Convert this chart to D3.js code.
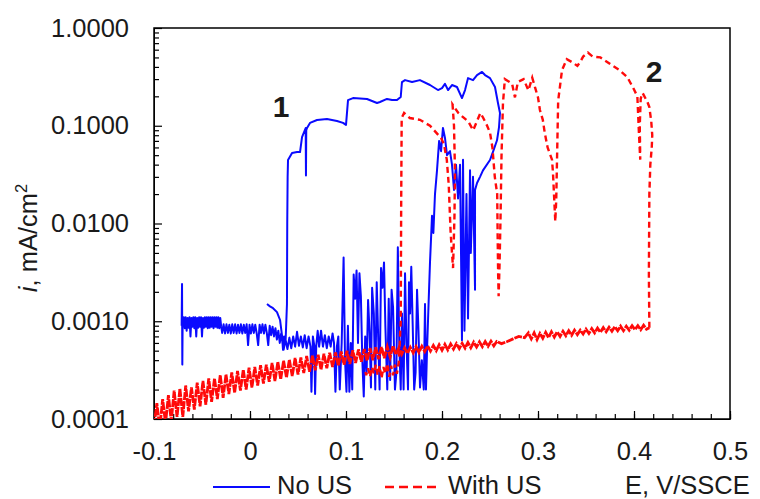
<!DOCTYPE html>
<html>
<head>
<meta charset="utf-8">
<script src="https://cdn.jsdelivr.net/npm/d3@7"></script>
<style>
  body { margin: 0; background: #fff; }
  svg { display: block; }
  text { font-family: "Liberation Sans", Arial, sans-serif; fill: #1a1a1a; }
</style>
</head>
<body>
<svg id="chart" width="760" height="499"></svg>
<script>
// E (V/SSCE), i (mA/cm2)

// No US - forward scan: passive band, pit at ~0.038 V, plateaus up to 0.26 V
const noUSForward = [
  [-0.0712, 0.0009], [-0.0708, 0.0024], [-0.0705, 0.00036], [-0.0702, 0.0009],
  [-0.069, 0.0011], [-0.068, 0.00085], [-0.067, 0.0011], [-0.066, 0.0008], [-0.065, 0.00108],
  [-0.064, 0.00086], [-0.063, 0.0011], [-0.062, 0.0007], [-0.061, 0.00108], [-0.060, 0.00088],
  [-0.059, 0.0011], [-0.058, 0.00085], [-0.057, 0.0011], [-0.056, 0.0007], [-0.055, 0.00108],
  [-0.054, 0.00086], [-0.053, 0.0011], [-0.052, 0.00088], [-0.051, 0.0011], [-0.050, 0.0007],
  [-0.049, 0.00108], [-0.048, 0.00086], [-0.047, 0.0011], [-0.046, 0.00088], [-0.045, 0.0011],
  [-0.044, 0.00085], [-0.043, 0.0011], [-0.042, 0.00086], [-0.041, 0.0011], [-0.040, 0.00088],
  [-0.039, 0.0011], [-0.038, 0.00085], [-0.037, 0.0011], [-0.036, 0.00088], [-0.035, 0.0011],
  [-0.034, 0.00086], [-0.033, 0.0011], [-0.032, 0.00085], [-0.031, 0.00108], [-0.030, 0.00088],
  [-0.029, 0.00076], [-0.0275, 0.00093], [-0.026, 0.00075], [-0.0245, 0.00093], [-0.023, 0.00076],
  [-0.0215, 0.00092], [-0.020, 0.00075], [-0.0185, 0.00093], [-0.017, 0.00076], [-0.0155, 0.00093],
  [-0.014, 0.00075], [-0.0125, 0.00092], [-0.011, 0.00076], [-0.0095, 0.00093], [-0.008, 0.00075],
  [-0.0065, 0.00092], [-0.005, 0.00076], [-0.0035, 0.00093], [-0.002, 0.00057], [-0.0005, 0.00092],
  [0.001, 0.00075], [0.0025, 0.00093], [0.004, 0.00076], [0.0055, 0.00092], [0.007, 0.00075],
  [0.0085, 0.00057], [0.010, 0.00092], [0.0115, 0.00076], [0.013, 0.00093], [0.0145, 0.00075],
  [0.016, 0.00092], [0.0175, 0.00076], [0.019, 0.00057], [0.0205, 0.0009], [0.022, 0.00072],
  [0.0235, 0.00088], [0.025, 0.0007], [0.0265, 0.00085], [0.028, 0.00065], [0.0295, 0.0008],
  [0.031, 0.0006], [0.0325, 0.00075], [0.034, 0.00058], [0.0355, 0.0007], [0.037, 0.0006],
  [0.0385, 0.0015], [0.0388, 0.01], [0.0392, 0.03], [0.0396, 0.0446], [0.0438, 0.0526],
  [0.049, 0.0538], [0.0521, 0.0538], [0.0542, 0.0767], [0.058, 0.0948], [0.0583, 0.031],
  [0.0586, 0.09], [0.0594, 0.0948], [0.0625, 0.107], [0.0698, 0.1145], [0.0802, 0.117],
  [0.0906, 0.112], [0.0969, 0.107], [0.100, 0.102], [0.1021, 0.183], [0.1073, 0.192],
  [0.1219, 0.188], [0.1323, 0.171], [0.1354, 0.175], [0.1427, 0.188], [0.148, 0.183],
  [0.1531, 0.183], [0.157, 0.197], [0.1583, 0.28], [0.1615, 0.293], [0.1688, 0.28],
  [0.177, 0.293], [0.1875, 0.261], [0.1958, 0.232], [0.200, 0.243], [0.2031, 0.268],
  [0.2063, 0.232], [0.2104, 0.261], [0.2156, 0.249], [0.2208, 0.192], [0.224, 0.232],
  [0.2271, 0.307], [0.2323, 0.293], [0.2365, 0.33], [0.2417, 0.355], [0.2448, 0.33],
  [0.250, 0.307], [0.2552, 0.249], [0.2583, 0.171], [0.2604, 0.135]
];

// No US - reverse scan: decay, repassivation spikes, back to passive band
const noUSReverse = [
  [0.2594, 0.097], [0.2573, 0.071], [0.2531, 0.054], [0.250, 0.0446], [0.2427, 0.035],
  [0.2396, 0.030], [0.2365, 0.026], [0.2344, 0.022], [0.2344, 0.0021], [0.2323, 0.03],
  [0.230, 0.005], [0.2292, 0.035], [0.2271, 0.00107], [0.2255, 0.02], [0.2234, 0.0008],
  [0.2219, 0.045], [0.2208, 0.00064], [0.2188, 0.04], [0.2167, 0.018], [0.2146, 0.04],
  [0.2125, 0.022], [0.2104, 0.04], [0.2083, 0.055], [0.2052, 0.05], [0.2031, 0.075],
  [0.201, 0.095], [0.199, 0.055], [0.197, 0.07], [0.1948, 0.035], [0.1927, 0.02],
  [0.191, 0.008], [0.1896, 0.012], [0.1875, 0.004], [0.186, 0.0015], [0.1844, 0.0005],
  [0.1833, 0.0002], [0.1823, 0.0015], [0.181, 0.0002], [0.179, 0.0004], [0.1771, 0.00021],
  [0.1755, 0.0008], [0.174, 0.0021], [0.1725, 0.0003], [0.171, 0.0002], [0.1695, 0.0009],
  [0.168, 0.0036], [0.1667, 0.0012], [0.1656, 0.0025], [0.1646, 0.0002], [0.163, 0.0006],
  [0.1615, 0.0031], [0.160, 0.0002], [0.1583, 0.0012], [0.157, 0.0002], [0.1555, 0.00058],
  [0.154, 0.0057], [0.1525, 0.0003], [0.151, 0.0002], [0.149, 0.0014], [0.1475, 0.0021],
  [0.146, 0.00025], [0.1445, 0.0017], [0.143, 0.0002], [0.141, 0.0009], [0.1396, 0.004],
  [0.138, 0.0022], [0.1365, 0.0035], [0.135, 0.0002], [0.1335, 0.0007], [0.132, 0.0025],
  [0.1305, 0.0002], [0.129, 0.0012], [0.1272, 0.0022], [0.126, 0.00021], [0.1245, 0.0008],
  [0.123, 0.00165], [0.1215, 0.0003], [0.120, 0.0007], [0.1185, 0.00017], [0.117, 0.0004],
  [0.1155, 0.0018], [0.114, 0.0031], [0.1125, 0.0006], [0.111, 0.0033], [0.1095, 0.0017],
  [0.108, 0.003], [0.1065, 0.0002], [0.105, 0.0006], [0.1035, 0.00019], [0.102, 0.0009],
  [0.1005, 0.00019], [0.099, 0.0004], [0.0975, 0.0045], [0.0955, 0.0006], [0.0935, 0.0002],
  [0.092, 0.0007], [0.0905, 0.00055], [0.089, 0.00019], [0.0875, 0.0006], [0.086, 0.00075],
  [0.084, 0.00055], [0.082, 0.0007], [0.080, 0.00053], [0.078, 0.00072], [0.076, 0.00055],
  [0.074, 0.0008], [0.072, 0.00055], [0.0705, 0.0008], [0.069, 0.00056], [0.0678, 0.00018],
  [0.067, 0.00056], [0.0655, 0.0007], [0.064, 0.00019], [0.063, 0.00055], [0.061, 0.0007],
  [0.059, 0.00053], [0.057, 0.00072], [0.055, 0.00054], [0.053, 0.0007], [0.051, 0.00056],
  [0.049, 0.00078], [0.047, 0.00055], [0.045, 0.0007], [0.043, 0.00053], [0.041, 0.00068],
  [0.039, 0.00052], [0.037, 0.00065], [0.035, 0.00051], [0.0344, 0.00051], [0.0333, 0.00072],
  [0.0313, 0.00103], [0.0281, 0.00124], [0.024, 0.00136], [0.0208, 0.00142], [0.0177, 0.0015]
];

// With US - forward scan: noisy passive band up to the pit at ~0.416 V
const withUSForward = [
  [-0.100, 0.85e-4], [-0.097, 1.45e-4], [-0.094, 0.80e-4], [-0.091, 1.60e-4], [-0.088, 0.90e-4],
  [-0.085, 1.75e-4], [-0.082, 0.95e-4], [-0.079, 1.95e-4], [-0.076, 1.05e-4], [-0.073, 2.05e-4],
  [-0.070, 1.05e-4], [-0.067, 2.20e-4], [-0.064, 1.20e-4], [-0.061, 2.10e-4], [-0.058, 1.25e-4],
  [-0.055, 2.35e-4], [-0.052, 1.35e-4], [-0.049, 2.45e-4], [-0.046, 1.40e-4], [-0.043, 2.60e-4],
  [-0.040, 1.50e-4], [-0.037, 2.60e-4], [-0.034, 1.60e-4], [-0.031, 2.80e-4], [-0.028, 1.65e-4],
  [-0.025, 2.85e-4], [-0.022, 1.80e-4], [-0.019, 3.00e-4], [-0.016, 1.85e-4], [-0.013, 3.10e-4],
  [-0.010, 1.95e-4], [-0.007, 3.20e-4], [-0.004, 2.00e-4], [-0.001, 3.35e-4], [0.002, 2.10e-4],
  [0.005, 3.40e-4], [0.008, 2.20e-4], [0.011, 3.55e-4], [0.014, 2.30e-4], [0.017, 3.60e-4],
  [0.020, 2.40e-4], [0.023, 3.75e-4], [0.026, 2.45e-4], [0.029, 3.85e-4], [0.032, 2.55e-4],
  [0.035, 3.95e-4], [0.038, 2.65e-4], [0.041, 4.05e-4], [0.044, 2.75e-4], [0.047, 4.20e-4],
  [0.050, 2.85e-4], [0.053, 4.25e-4], [0.056, 2.95e-4], [0.059, 4.40e-4], [0.062, 3.05e-4],
  [0.065, 4.45e-4], [0.068, 3.15e-4], [0.071, 4.55e-4], [0.074, 3.20e-4], [0.077, 4.65e-4],
  [0.080, 3.30e-4], [0.083, 4.75e-4], [0.086, 3.40e-4], [0.089, 4.80e-4], [0.092, 3.50e-4],
  [0.095, 4.90e-4], [0.098, 3.60e-4], [0.101, 5.00e-4], [0.104, 3.65e-4], [0.107, 5.05e-4],
  [0.110, 3.75e-4], [0.113, 5.15e-4], [0.116, 3.85e-4], [0.119, 5.20e-4], [0.122, 3.95e-4],
  [0.125, 5.30e-4], [0.128, 4.00e-4], [0.131, 5.40e-4], [0.134, 4.10e-4], [0.137, 5.45e-4],
  [0.140, 4.20e-4], [0.143, 5.50e-4], [0.146, 4.30e-4], [0.149, 5.60e-4], [0.152, 4.55e-4],
  [0.155, 5.30e-4], [0.158, 4.60e-4], [0.161, 5.35e-4], [0.164, 4.70e-4], [0.167, 5.40e-4],
  [0.170, 4.75e-4], [0.173, 5.50e-4], [0.176, 4.80e-4], [0.179, 5.55e-4], [0.182, 4.90e-4],
  [0.185, 5.60e-4], [0.188, 4.95e-4], [0.191, 5.65e-4], [0.194, 5.00e-4], [0.197, 5.75e-4],
  [0.200, 5.05e-4], [0.203, 5.80e-4], [0.206, 5.10e-4], [0.209, 5.85e-4], [0.212, 5.20e-4],
  [0.215, 5.90e-4], [0.218, 5.25e-4], [0.221, 5.95e-4], [0.224, 5.30e-4], [0.227, 6.05e-4],
  [0.230, 5.35e-4], [0.233, 6.10e-4], [0.236, 5.45e-4], [0.239, 6.15e-4], [0.242, 5.50e-4],
  [0.245, 6.20e-4], [0.248, 5.55e-4], [0.251, 6.25e-4], [0.254, 5.60e-4], [0.257, 6.20e-4],
  [0.262, 5.90e-4], [0.268, 6.20e-4], [0.274, 6.60e-4], [0.280, 7.00e-4], [0.286, 6.80e-4],
  [0.290, 7.60e-4], [0.293, 6.60e-4], [0.296, 7.60e-4], [0.299, 6.50e-4], [0.302, 7.50e-4],
  [0.305, 6.70e-4], [0.308, 7.70e-4], [0.311, 6.80e-4], [0.314, 7.80e-4], [0.317, 6.90e-4],
  [0.320, 7.80e-4], [0.323, 7.00e-4], [0.326, 7.90e-4], [0.329, 7.10e-4], [0.332, 8.00e-4],
  [0.335, 7.20e-4], [0.338, 8.10e-4], [0.341, 7.30e-4], [0.344, 8.10e-4], [0.347, 7.40e-4],
  [0.350, 8.30e-4], [0.353, 7.50e-4], [0.356, 8.40e-4], [0.359, 7.60e-4], [0.362, 8.50e-4],
  [0.365, 7.70e-4], [0.368, 8.60e-4], [0.371, 7.80e-4], [0.374, 8.70e-4], [0.377, 7.90e-4],
  [0.380, 8.80e-4], [0.383, 8.00e-4], [0.386, 8.90e-4], [0.389, 8.00e-4], [0.392, 8.90e-4],
  [0.395, 8.10e-4], [0.398, 9.00e-4], [0.401, 8.20e-4], [0.404, 9.00e-4], [0.407, 8.20e-4],
  [0.410, 9.10e-4], [0.413, 8.30e-4], [0.416, 8.60e-4]
];

// With US - reverse scan from the pit back to repassivation
const withUSReverse = [
  [0.4155, 0.003], [0.416, 0.02], [0.417, 0.04], [0.4185, 0.06], [0.419, 0.08], [0.418, 0.11],
  [0.416, 0.155], [0.414, 0.175], [0.409, 0.216], [0.407, 0.19], [0.406, 0.1], [0.4065, 0.045],
  [0.405, 0.09], [0.4035, 0.2], [0.3995, 0.24], [0.393, 0.315], [0.385, 0.37], [0.378, 0.41],
  [0.372, 0.45], [0.365, 0.50], [0.357, 0.51], [0.352, 0.56], [0.347, 0.51], [0.344, 0.45],
  [0.341, 0.41], [0.335, 0.45], [0.330, 0.48], [0.325, 0.37], [0.321, 0.18], [0.320, 0.056],
  [0.319, 0.0175], [0.318, 0.0105], [0.3156, 0.033], [0.3146, 0.045], [0.310, 0.06],
  [0.307, 0.085], [0.305, 0.115], [0.302, 0.145], [0.300, 0.195], [0.297, 0.245],
  [0.294, 0.31], [0.290, 0.23], [0.285, 0.30], [0.279, 0.28], [0.276, 0.195], [0.273, 0.27],
  [0.2655, 0.30], [0.2635, 0.17], [0.262, 0.05], [0.261, 0.012], [0.260, 0.004], [0.259, 0.0018],
  [0.2585, 0.003], [0.258, 0.007], [0.2575, 0.02], [0.255, 0.03], [0.2525, 0.06], [0.250, 0.085],
  [0.247, 0.10], [0.243, 0.12], [0.240, 0.135], [0.2325, 0.09], [0.2275, 0.11], [0.217, 0.135],
  [0.211, 0.165], [0.2125, 0.10], [0.2135, 0.035], [0.213, 0.012], [0.2115, 0.0035],
  [0.209, 0.008], [0.207, 0.025], [0.205, 0.045], [0.202, 0.065], [0.199, 0.075],
  [0.1875, 0.10], [0.177, 0.115], [0.1665, 0.12], [0.1605, 0.135], [0.158, 0.12],
  [0.1575, 0.017], [0.157, 0.001], [0.156, 0.0006], [0.155, 3.8e-4], [0.153, 2.9e-4],
  [0.151, 3.6e-4], [0.149, 2.8e-4], [0.147, 3.5e-4], [0.145, 2.7e-4], [0.143, 3.7e-4],
  [0.141, 2.9e-4], [0.139, 3.4e-4], [0.137, 2.6e-4], [0.135, 3.5e-4], [0.133, 2.8e-4],
  [0.131, 3.6e-4], [0.129, 2.9e-4], [0.127, 3.4e-4], [0.125, 2.7e-4], [0.123, 3.3e-4],
  [0.121, 2.8e-4], [0.120, 3.1e-4]
];

const noUS = noUSForward.concat(noUSReverse);

const xTicks = [-0.1, 0, 0.1, 0.2, 0.3, 0.4, 0.5];
const xTickLabels = ['-0.1', '0', '0.1', '0.2', '0.3', '0.4', '0.5'];
const yTicks = [0.0001, 0.001, 0.01, 0.1, 1];
const yTickLabels = ['0.0001', '0.0010', '0.0100', '0.1000', '1.0000'];

const plotLeft = 154, plotRight = 730, plotTop = 28, plotBottom = 419;
const fontSize = 25.5;

const svg = d3.select('#chart');
const x = d3.scaleLinear().domain([-0.1, 0.5]).range([plotLeft, plotRight]);
const y = d3.scaleLog().domain([1e-4, 1]).range([plotBottom, plotTop]);

svg.append('defs').append('clipPath').attr('id', 'plotClip')
  .append('rect')
  .attr('x', plotLeft).attr('y', plotTop)
  .attr('width', plotRight - plotLeft).attr('height', plotBottom - plotTop);

// Minor ticks
const yMinor = [];
yTicks.slice(0, -1).forEach(d => { for (let k = 2; k < 10; k++) yMinor.push(d * k); });
const xMinor = d3.range(-0.1, 0.5001, 0.02).map(d => +d.toFixed(2));

svg.append('g')
  .attr('transform', `translate(${plotLeft},0)`)
  .call(d3.axisLeft(y).tickValues(yMinor).tickSize(-5).tickFormat(''))
  .call(g => g.select('.domain').remove());

svg.append('g')
  .attr('transform', `translate(0,${plotBottom})`)
  .call(d3.axisBottom(x).tickValues(xMinor).tickSize(-5).tickFormat(''))
  .call(g => g.select('.domain').remove());

// Major axes
const yAxis = svg.append('g')
  .attr('transform', `translate(${plotLeft},0)`)
  .call(d3.axisLeft(y).tickValues(yTicks).tickFormat((d, i) => yTickLabels[i])
    .tickSizeInner(-8).tickSizeOuter(0).tickPadding(25));
yAxis.selectAll('text').attr('font-size', fontSize).attr('fill', '#1a1a1a');

const xAxis = svg.append('g')
  .attr('transform', `translate(0,${plotBottom})`)
  .call(d3.axisBottom(x).tickValues(xTicks).tickFormat((d, i) => xTickLabels[i])
    .tickSizeInner(-8).tickSizeOuter(0).tickPadding(23));
xAxis.selectAll('text').attr('font-size', fontSize).attr('fill', '#1a1a1a');

svg.selectAll('g').attr('font-family', null);
svg.selectAll('.tick line').attr('stroke', '#000').attr('stroke-width', 1.2);

// Frame
svg.append('rect')
  .attr('x', plotLeft).attr('y', plotTop)
  .attr('width', plotRight - plotLeft).attr('height', plotBottom - plotTop)
  .attr('fill', 'none').attr('stroke', '#000').attr('stroke-width', 1.5);

// Curves
const line = d3.line().x(d => x(d[0])).y(d => y(d[1]));
const plot = svg.append('g').attr('clip-path', 'url(#plotClip)');

plot.append('path').datum(noUS)
  .attr('d', line)
  .attr('fill', 'none')
  .attr('stroke', '#0a0aff')
  .attr('stroke-width', 2)
  .attr('stroke-linejoin', 'round');

// dense noisy forward band: dashes overlap into an almost solid band
plot.append('path').datum(withUSForward)
  .attr('d', line)
  .attr('fill', 'none')
  .attr('stroke', '#ff0a0a')
  .attr('stroke-width', 2.8)
  .attr('stroke-dasharray', '8,1');

plot.append('path').datum([withUSForward[withUSForward.length - 1]].concat(withUSReverse))
  .attr('d', line)
  .attr('fill', 'none')
  .attr('stroke', '#ff0a0a')
  .attr('stroke-width', 2.4)
  .attr('stroke-dasharray', '6,4');

// Curve numbers
svg.append('text').attr('x', 281).attr('y', 117).attr('text-anchor', 'middle')
  .attr('font-size', 30).attr('font-weight', 'bold').attr('fill', '#000').text('1');
svg.append('text').attr('x', 654).attr('y', 82).attr('text-anchor', 'middle')
  .attr('font-size', 30).attr('font-weight', 'bold').attr('fill', '#000').text('2');

// Y axis title
const yTitle = svg.append('text')
  .attr('transform', 'translate(37,238) rotate(-90)')
  .attr('text-anchor', 'middle')
  .attr('font-size', fontSize);
yTitle.append('tspan').attr('font-style', 'italic').text('i');
yTitle.append('tspan').text(', mA/cm');
yTitle.append('tspan').attr('font-size', fontSize * 0.65).attr('dy', -10).text('2');

// Legend row
const legendY = 487;
const legendBase = 494;
svg.append('line').attr('x1', 213).attr('x2', 270).attr('y1', legendY).attr('y2', legendY)
  .attr('stroke', '#0a0aff').attr('stroke-width', 2);
svg.append('text').attr('x', 277).attr('y', legendBase).attr('font-size', fontSize).text('No US');
svg.append('line').attr('x1', 385).attr('x2', 440).attr('y1', legendY).attr('y2', legendY)
  .attr('stroke', '#ff0a0a').attr('stroke-width', 2.4).attr('stroke-dasharray', '9,5');
svg.append('text').attr('x', 448).attr('y', legendBase).attr('font-size', fontSize).text('With US');
svg.append('text').attr('x', 625).attr('y', legendBase).attr('font-size', fontSize).text('E, V/SSCE');
</script>
</body>
</html>
